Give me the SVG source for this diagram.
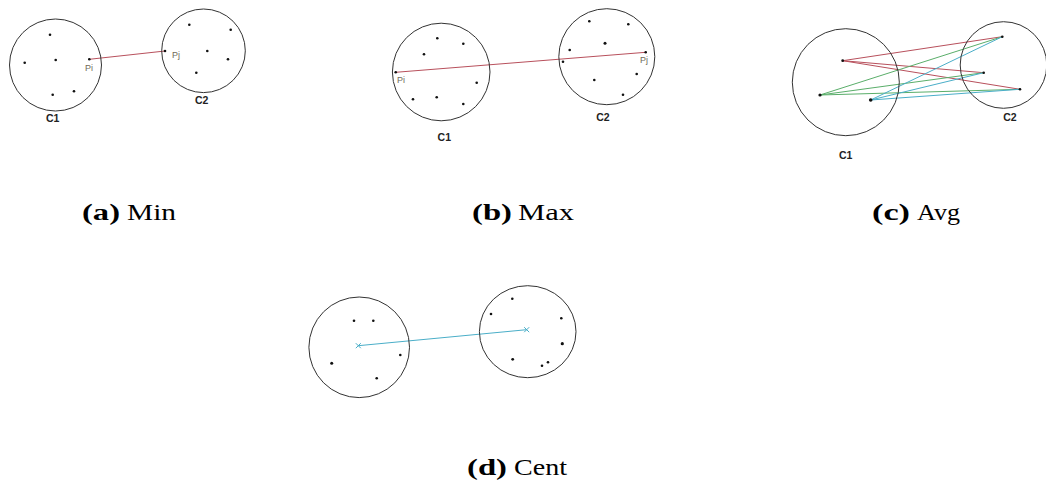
<svg xmlns="http://www.w3.org/2000/svg" width="1046" height="486" viewBox="0 0 1046 486">
<style>
.cl{fill:none;stroke:#333;stroke-width:1}
.pt{fill:#111}
.lab{font-family:"Liberation Sans",Arial,sans-serif;font-weight:bold;font-size:10.5px;fill:#222;text-anchor:middle}
.pl{font-family:"Liberation Sans",Arial,sans-serif;font-size:9px;fill:#706a58}
.red{stroke:#b8505c;stroke-width:1;fill:none}
.grn{stroke:#5aae6a;stroke-width:1;fill:none}
.blu{stroke:#4aaec8;stroke-width:1;fill:none}
.capb{font-family:"Liberation Serif","Times New Roman",serif;font-weight:bold;font-size:24px;fill:#000}
.capr{font-family:"Liberation Serif","Times New Roman",serif;font-size:24px;fill:#000}
</style>
<rect width="1046" height="486" fill="#fff"/>
<!-- Panel a -->
<g id="a-connectors"><line class="red" x1="89.3" y1="59.3" x2="165" y2="51"/></g>
<g id="a-C1">
<circle class="cl" cx="55.5" cy="65" r="46"/>
<circle class="pt" cx="50" cy="34.7" r="1.3"/><circle class="pt" cx="24.7" cy="62.7" r="1.3"/><circle class="pt" cx="55.7" cy="60" r="1.3"/><circle class="pt" cx="89.3" cy="59.3" r="1.3"/><circle class="pt" cx="52.7" cy="94.7" r="1.3"/><circle class="pt" cx="74" cy="91.3" r="1.3"/>
<text class="pl" x="85" y="71">Pi</text>
<text class="lab" x="52.7" y="122">C1</text>
</g>
<g id="a-C2">
<circle class="cl" cx="203.5" cy="50.8" r="41.8"/>
<circle class="pt" cx="189.3" cy="24.7" r="1.3"/><circle class="pt" cx="230.7" cy="29.7" r="1.3"/><circle class="pt" cx="207.3" cy="51" r="1.3"/><circle class="pt" cx="165" cy="51" r="1.3"/><circle class="pt" cx="228" cy="59.3" r="1.3"/><circle class="pt" cx="196.3" cy="72.7" r="1.3"/>
<text class="pl" x="172" y="58">Pj</text>
<text class="lab" x="201.7" y="104">C2</text>
</g>
<!-- Panel b -->
<g id="b-connectors"><line class="red" x1="395.7" y1="72.3" x2="645.7" y2="52.3"/></g>
<g id="b-C1">
<circle class="cl" cx="441.2" cy="72" r="48.8"/>
<circle class="pt" cx="437.3" cy="38.3" r="1.3"/><circle class="pt" cx="463.3" cy="43.7" r="1.3"/><circle class="pt" cx="424" cy="54.3" r="1.3"/><circle class="pt" cx="395.7" cy="72.3" r="1.3"/><circle class="pt" cx="476.7" cy="82.7" r="1.3"/><circle class="pt" cx="413" cy="99.3" r="1.3"/><circle class="pt" cx="436.7" cy="97.3" r="1.3"/><circle class="pt" cx="463.3" cy="104" r="1.3"/>
<text class="pl" x="397" y="83">Pi</text>
<text class="lab" x="444.3" y="141">C1</text>
</g>
<g id="b-C2">
<circle class="cl" cx="606.8" cy="56.7" r="48"/>
<circle class="pt" cx="589.3" cy="21.3" r="1.3"/><circle class="pt" cx="628.3" cy="24.3" r="1.3"/><circle class="pt" cx="605" cy="43.3" r="1.5"/><circle class="pt" cx="569.7" cy="50" r="1.3"/><circle class="pt" cx="563" cy="61.7" r="1.3"/><circle class="pt" cx="645.7" cy="52.3" r="1.3"/><circle class="pt" cx="636.7" cy="74" r="1.3"/><circle class="pt" cx="594.3" cy="80" r="1.3"/><circle class="pt" cx="623" cy="94.7" r="1.3"/>
<text class="pl" x="640" y="63">Pj</text>
<text class="lab" x="603" y="121">C2</text>
</g>
<!-- Panel c -->
<g id="c-connectors">
<line class="red" x1="842.7" y1="60.7" x2="1002.3" y2="36.7"/><line class="red" x1="842.7" y1="60.7" x2="983.7" y2="72.7"/><line class="red" x1="842.7" y1="60.7" x2="1020" y2="89.3"/>
<line class="grn" x1="820" y1="95" x2="1002.3" y2="36.7"/><line class="grn" x1="820" y1="95" x2="983.7" y2="72.7"/><line class="grn" x1="820" y1="95" x2="1020" y2="89.3"/>
<line class="blu" x1="870.7" y1="100" x2="1002.3" y2="36.7"/><line class="blu" x1="870.7" y1="100" x2="983.7" y2="72.7"/><line class="blu" x1="870.7" y1="100" x2="1020" y2="89.3"/>
</g>
<g id="c-C1">
<circle class="cl" cx="845.8" cy="82.2" r="53.5"/>
<circle class="pt" cx="842.7" cy="60.7" r="1.4"/><circle class="pt" cx="820" cy="95" r="1.6"/><circle class="pt" cx="870.7" cy="100" r="1.8"/>
<text class="lab" x="845.7" y="159">C1</text>
</g>
<g id="c-C2">
<circle class="cl" cx="1003.5" cy="65" r="43.3"/>
<circle class="pt" cx="1002.3" cy="36.7" r="1.3"/><circle class="pt" cx="983.7" cy="72.7" r="1.3"/><circle class="pt" cx="1020" cy="89.3" r="1.3"/>
<text class="lab" x="1010" y="121">C2</text>
</g>
<!-- Panel d -->
<g id="d-connectors"><line class="blu" x1="358.3" y1="345.7" x2="526.7" y2="329.7"/></g>
<g id="d-C1">
<circle class="cl" cx="359.2" cy="347.3" r="50.3"/>
<circle class="pt" cx="354" cy="320.7" r="1.3"/><circle class="pt" cx="373.3" cy="320.7" r="1.3"/><circle class="pt" cx="400.3" cy="355" r="1.3"/><circle class="pt" cx="331.7" cy="363.3" r="1.5"/><circle class="pt" cx="376.7" cy="378.3" r="1.3"/>
<path class="blu" d="M355.8 343.2 L360.8 348.2 M360.8 343.2 L355.8 348.2"/>
</g>
<g id="d-C2">
<ellipse class="cl" cx="527.7" cy="331.7" rx="48.3" ry="46"/>
<circle class="pt" cx="512.3" cy="298.7" r="1.3"/><circle class="pt" cx="491" cy="314" r="1.3"/><circle class="pt" cx="561.3" cy="318.3" r="1.3"/><circle class="pt" cx="562.3" cy="343.7" r="1.6"/><circle class="pt" cx="512.7" cy="359.3" r="1.4"/><circle class="pt" cx="548" cy="362.3" r="1.3"/><circle class="pt" cx="542" cy="365.7" r="1.3"/>
<path class="blu" d="M524.2 327.2 L529.2 332.2 M529.2 327.2 L524.2 332.2"/>
</g>
<!-- Captions -->
<g id="captions">
<text class="capb" x="82" y="220" textLength="38" lengthAdjust="spacingAndGlyphs">(a)</text><text class="capr" x="127" y="220" textLength="49" lengthAdjust="spacingAndGlyphs">Min</text>
<text class="capb" x="472" y="220" textLength="40" lengthAdjust="spacingAndGlyphs">(b)</text><text class="capr" x="518" y="220" textLength="56" lengthAdjust="spacingAndGlyphs">Max</text>
<text class="capb" x="872" y="220" textLength="38" lengthAdjust="spacingAndGlyphs">(c)</text><text class="capr" x="917" y="220" textLength="43" lengthAdjust="spacingAndGlyphs">Avg</text>
<text class="capb" x="467" y="475" textLength="40" lengthAdjust="spacingAndGlyphs">(d)</text><text class="capr" x="514" y="475" textLength="53" lengthAdjust="spacingAndGlyphs">Cent</text>
</g>
</svg>
